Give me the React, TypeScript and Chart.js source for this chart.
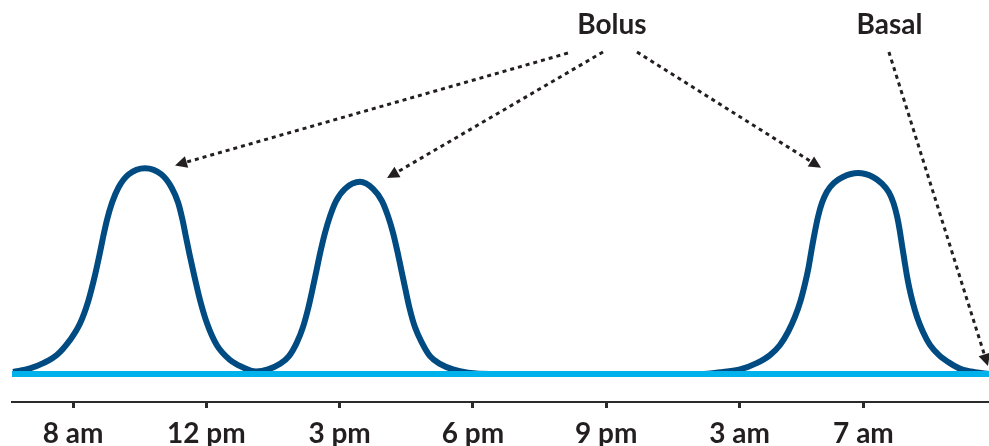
import React, { useEffect, useRef } from 'react';
import { Chart, registerables } from 'chart.js';

Chart.register(...registerables);

// Axis ticks (positions on a linear scale) and their labels
const tickLabels = ['8 am', '12 pm', '3 pm', '6 pm', '9 pm', '3 am', '7 am'];
const tickPositions = [0, 1, 2, 3, 4, 5, 5.93];

// Bolus insulin curve (three meal peaks)
const bolusX = [
  -0.45, -0.323, -0.223, -0.122, -0.023, 0.053, 0.113, 0.165, 0.199, 0.225, 0.255, 0.293, 0.341, 0.416,
  0.54,
  0.664, 0.739, 0.788, 0.821, 0.848, 0.874, 0.908, 0.953, 1.005, 1.078, 1.178, 1.268,
  1.373,
  1.463, 1.553, 1.62, 1.678, 1.725, 1.765, 1.797, 1.827, 1.857, 1.89, 1.928, 1.973, 2.04,
  2.153,
  2.251, 2.318, 2.363, 2.401, 2.433, 2.463, 2.493, 2.524, 2.565, 2.618, 2.678, 2.753, 2.851, 2.963, 3.128,
  4.704, 4.876,
  5.004, 5.129, 5.229, 5.304, 5.364, 5.416, 5.458, 5.491, 5.518, 5.54, 5.563, 5.589, 5.619, 5.656, 5.709, 5.776,
  5.889,
  6.001, 6.069, 6.121, 6.155, 6.182, 6.202, 6.219, 6.237, 6.254, 6.274, 6.299, 6.332, 6.377, 6.429, 6.497, 6.579,
  6.662, 6.767, 6.872,
];
const bolusY = [
  0.6, 1.6, 3.1, 5.4, 9.7, 14.5, 20.7, 28.3, 34.2, 39.0, 44.1, 49.0, 53.3, 57.0,
  58.8,
  57.0, 53.3, 49.0, 44.1, 39.0, 34.2, 28.3, 21.1, 14.5, 8.3, 4.0, 2.0,
  0.7,
  1.3, 2.9, 5.1, 8.9, 13.4, 18.9, 24.3, 29.7, 35.1, 40.3, 45.1, 49.4, 52.9,
  54.9,
  52.9, 49.4, 45.1, 40.3, 35.1, 29.7, 24.3, 18.9, 13.4, 8.9, 5.1, 2.9, 1.3, 0.4, 0,
  0, 0.6,
  1.3, 3.1, 5.4, 8.3, 12.0, 16.3, 20.9, 25.7, 30.4, 35.3, 40.1, 44.9, 48.9, 52.1, 54.6, 56.3,
  57.4,
  56.3, 54.4, 51.9, 48.9, 45.1, 41.1, 36.9, 32.6, 28.6, 24.6, 20.6, 16.3, 12.0, 8.3, 5.4, 3.1,
  1.4, 0.5, 0,
];

// Basal insulin (flat background rate)
const basalX = [-0.458, 6.872];
const basalY = [0, 0];

// Annotation labels and arrows (data units)
const noteTexts = ['Bolus', 'Basal'];
const noteX = [4.043, 6.125];
const noteY = [99.7, 99.7];
const arrowFromX = [3.713, 3.976, 4.231, 6.121];
const arrowFromY = [91.7, 92.0, 92.0, 92.0];
const arrowToX = [0.765, 2.356, 5.612, 6.864];
const arrowToY = [59.6, 56.0, 58.9, 2.3];

const FONT = 'Lato, "Open Sans", "DejaVu Sans", sans-serif';
const TEXT_COLOR = '#231F20';

export default function App() {
  const ref = useRef<HTMLCanvasElement>(null);

  useEffect(() => {
    document.body.style.margin = '0';
    const canvas = ref.current;
    if (!canvas) return;

    const annotations = {
      id: 'annotations',
      afterDraw(chart: any) {
        const { ctx, scales } = chart;
        const xs = scales.x;
        const ys = scales.y;
        ctx.save();
        ctx.fillStyle = TEXT_COLOR;
        ctx.font = `bold 28px ${FONT}`;
        ctx.textAlign = 'center';
        ctx.textBaseline = 'middle';
        noteTexts.forEach((t, i) => {
          ctx.fillText(t, xs.getPixelForValue(noteX[i]), ys.getPixelForValue(noteY[i]));
        });
        const head = 12;
        const halfW = 6;
        arrowFromX.forEach((_, i) => {
          const x0 = xs.getPixelForValue(arrowFromX[i]);
          const y0 = ys.getPixelForValue(arrowFromY[i]);
          const x1 = xs.getPixelForValue(arrowToX[i]);
          const y1 = ys.getPixelForValue(arrowToY[i]);
          const dx = x1 - x0;
          const dy = y1 - y0;
          const len = Math.hypot(dx, dy);
          const ux = dx / len;
          const uy = dy / len;
          const bx = x1 - ux * head;
          const by = y1 - uy * head;
          ctx.strokeStyle = TEXT_COLOR;
          ctx.lineWidth = 3;
          ctx.setLineDash([4, 4]);
          ctx.lineCap = 'butt';
          ctx.beginPath();
          ctx.moveTo(x0, y0);
          ctx.lineTo(bx, by);
          ctx.stroke();
          ctx.setLineDash([]);
          ctx.beginPath();
          ctx.moveTo(x1, y1);
          ctx.lineTo(bx - uy * halfW, by + ux * halfW);
          ctx.lineTo(bx + uy * halfW, by - ux * halfW);
          ctx.closePath();
          ctx.fill();
        });
        ctx.restore();
      },
    };

    const chart = new Chart(canvas, {
      type: 'line',
      data: {
        datasets: [
          {
            label: 'Basal',
            data: basalX.map((x, i) => ({ x, y: basalY[i] })),
            borderColor: '#00B2EC',
            borderWidth: 6,
            pointRadius: 0,
            fill: false,
          },
          {
            label: 'Bolus',
            data: bolusX.map((x, i) => ({ x, y: bolusY[i] })),
            borderColor: '#004B82',
            borderWidth: 6,
            pointRadius: 0,
            fill: false,
            cubicInterpolationMode: 'monotone',
          },
        ],
      },
      options: {
        animation: false,
        responsive: true,
        maintainAspectRatio: false,
        layout: { padding: { left: 12, right: 0, top: 10, bottom: 0 } },
        plugins: {
          legend: { display: false },
          tooltip: { enabled: false },
        },
        scales: {
          x: {
            type: 'linear',
            min: -0.458,
            max: 6.872,
            afterBuildTicks: (scale: any) => {
              scale.ticks = tickPositions.map((v) => ({ value: v }));
            },
            afterFit: (scale: any) => {
              scale.height = 44;
            },
            border: { display: true, color: '#2B2B2B', width: 2 },
            grid: {
              display: true,
              drawOnChartArea: false,
              drawTicks: true,
              tickLength: 6,
              tickWidth: 3,
              tickColor: '#2B2B2B',
            },
            ticks: {
              autoSkip: false,
              maxRotation: 0,
              padding: 9,
              color: TEXT_COLOR,
              font: { family: FONT, size: 28, weight: 'bold' },
              callback: (_v: any, index: number) => tickLabels[index],
            },
          },
          y: {
            display: false,
            min: -8,
            max: 104,
          },
        },
      },
      plugins: [annotations],
    });

    return () => chart.destroy();
  }, []);

  return (
    <div style={{ position: 'relative', width: 989, height: 446 }}>
      <canvas ref={ref} />
    </div>
  );
}
